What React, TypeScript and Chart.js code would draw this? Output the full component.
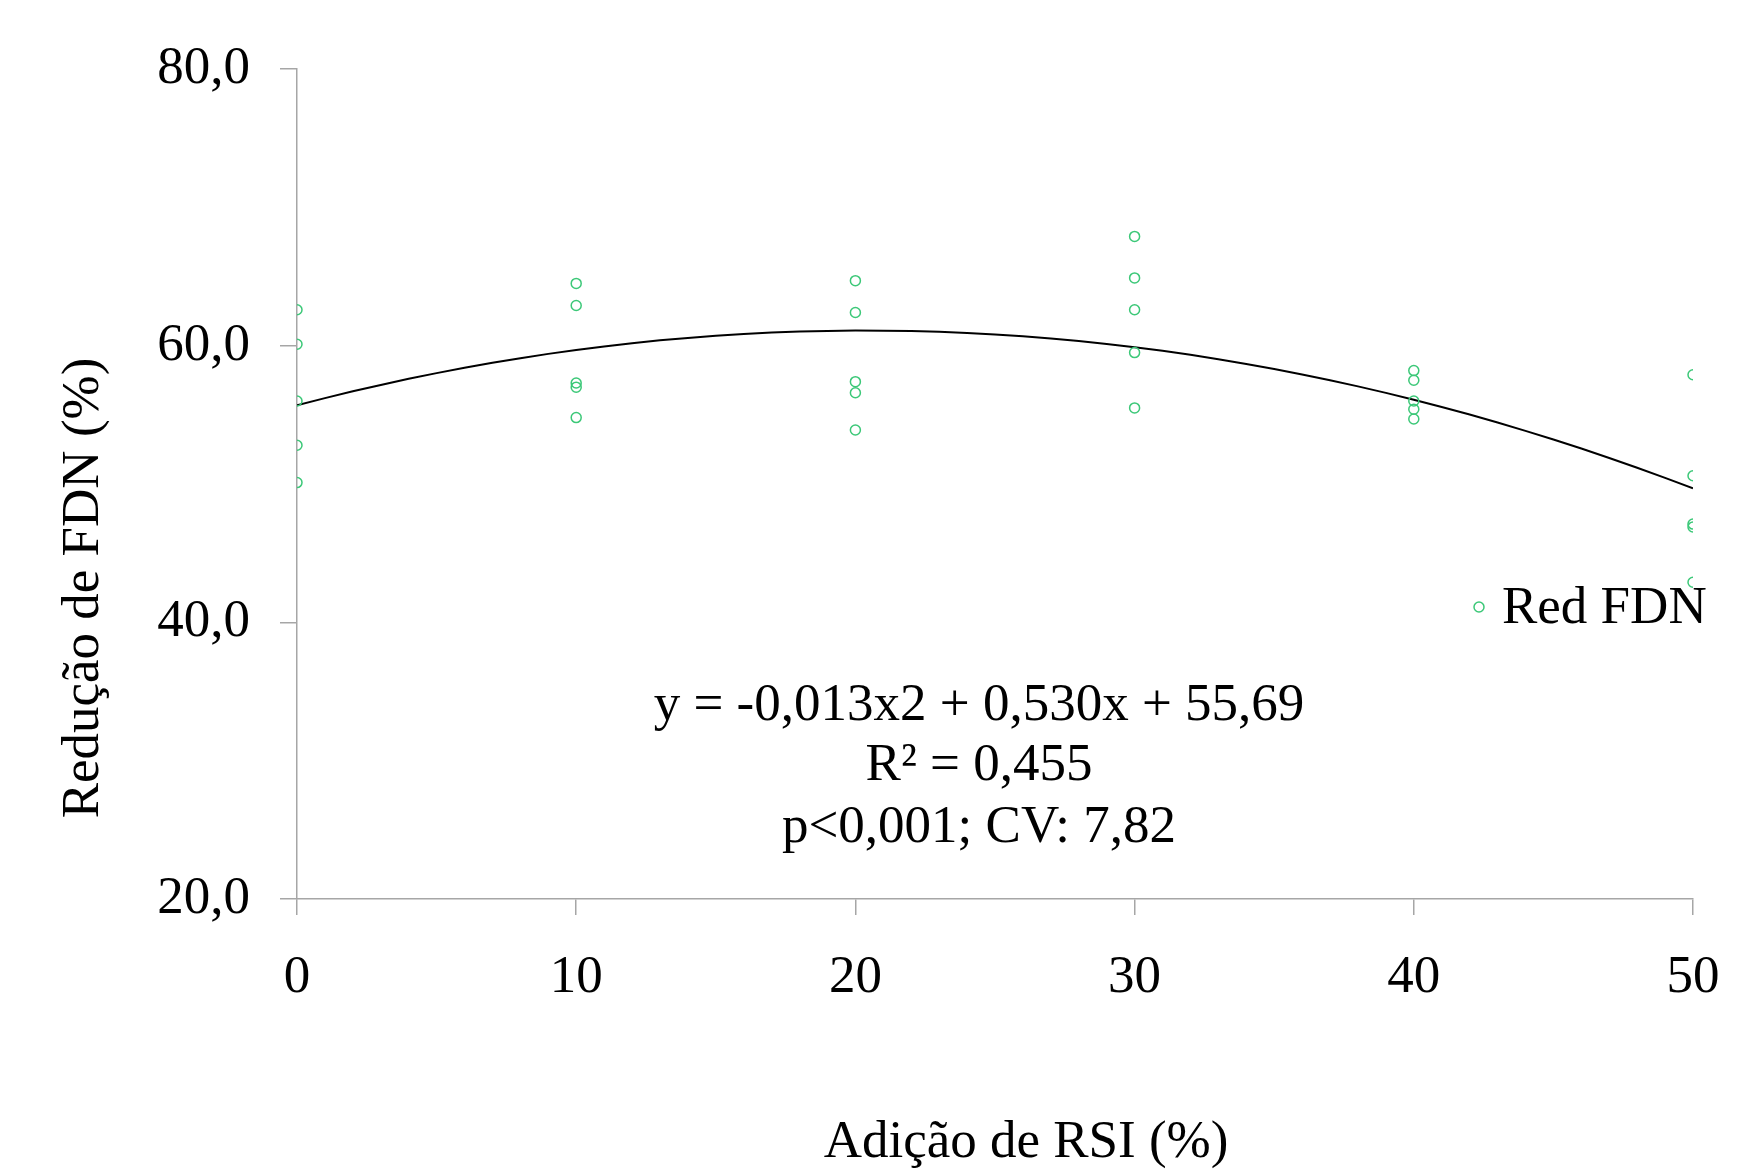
import React, { useEffect, useRef } from "react";
import { Chart, registerables } from "chart.js";

Chart.register(...registerables);

const xLevels = [0, 10, 20, 30, 40, 50];
const obsAt0 = [62.6, 60.1, 56.0, 52.8, 50.1];
const obsAt10 = [64.5, 62.9, 57.3, 57.0, 54.8];
const obsAt20 = [64.7, 62.4, 57.4, 56.6, 53.9];
const obsAt30 = [67.9, 64.9, 62.6, 59.5, 55.5];
const obsAt40 = [58.2, 57.5, 56.0, 55.4, 54.7];
const obsAt50 = [57.9, 50.6, 47.1, 46.9, 42.9];
const fitCoefficients = [55.69, 0.53, -0.013]; // c0 + c1 x + c2 x^2 (printed equation)
const yTicks = [20, 40, 60, 80];
const seriesName = "Red FDN";
const xTitle = "Adição de RSI (%)";
const yTitle = "Redução de FDN (%)";
const equationLines = ["y = -0,013x2 + 0,530x + 55,69", "R² = 0,455", "p<0,001; CV: 7,82"];

const GREEN = "rgb(60,200,120)";
const FONT = "'Liberation Serif', 'Times New Roman', serif";
const FS = 53;

export default function App() {
  const ref = useRef<HTMLCanvasElement | null>(null);

  useEffect(() => {
    if (!ref.current) return;
    const groups = [obsAt0, obsAt10, obsAt20, obsAt30, obsAt40, obsAt50];
    const scatter: { x: number; y: number }[] = [];
    groups.forEach((g, i) => g.forEach((v) => scatter.push({ x: xLevels[i], y: v })));
    const fit: { x: number; y: number }[] = [];
    for (let x = 0; x <= 50; x += 1) {
      fit.push({ x, y: fitCoefficients[0] + fitCoefficients[1] * x + fitCoefficients[2] * x * x });
    }

    const overlay = {
      id: "overlay",
      afterDraw(chart: any) {
        const ctx = chart.ctx;
        ctx.save();
        ctx.fillStyle = "#000";
        ctx.textBaseline = "middle";
        ctx.textAlign = "center";
        ctx.font = `${FS}px ${FONT}`;
        ctx.fillText(xTitle, 1026, 1143);
        ctx.save();
        ctx.translate(84, 588);
        ctx.rotate(-Math.PI / 2);
        ctx.fillText(yTitle, 0, 0);
        ctx.restore();
        const lineY = [706, 766, 828];
        equationLines.forEach((t, i) => ctx.fillText(t, 979, lineY[i]));
        ctx.textAlign = "left";
        ctx.fillText(seriesName, 1502, 609);
        ctx.beginPath();
        ctx.arc(1479, 607, 5, 0, Math.PI * 2);
        ctx.strokeStyle = GREEN;
        ctx.lineWidth = 1.5;
        ctx.stroke();
        ctx.restore();
      },
    };

    const chart = new Chart(ref.current, {
      type: "scatter",
      data: {
        datasets: [
          {
            label: "fit",
            data: fit,
            showLine: true,
            borderColor: "#000",
            borderWidth: 2,
            pointRadius: 0,
            tension: 0,
            fill: false,
            order: 2,
          },
          {
            label: seriesName,
            data: scatter,
            pointRadius: 5,
            pointBorderWidth: 1.5,
            pointBorderColor: GREEN,
            pointBackgroundColor: "rgba(0,0,0,0)",
            showLine: false,
            order: 1,
          },
        ],
      },
      options: {
        animation: false,
        responsive: false,
        layout: { padding: { top: 69, right: 69, left: 0, bottom: 0 } },
        plugins: { legend: { display: false }, tooltip: { enabled: false } },
        scales: {
          x: {
            type: "linear",
            min: 0,
            max: 50,
            afterFit(scale: any) {
              scale.height = 272;
            },
            afterBuildTicks(scale: any) {
              scale.ticks = xLevels.map((v) => ({ value: v }));
            },
            grid: {
              drawOnChartArea: false,
              color: "#a6a6a6",
              lineWidth: 1.5,
              tickLength: 16,
            },
            border: { color: "#a6a6a6", width: 1.5 },
            ticks: {
              color: "#000",
              font: { family: FONT, size: FS },
              padding: 31,
              maxRotation: 0,
              callback: (v: any) => String(v),
            },
          },
          y: {
            type: "linear",
            min: 20,
            max: 80,
            afterFit(scale: any) {
              scale.width = 297;
            },
            afterBuildTicks(scale: any) {
              scale.ticks = yTicks.map((v) => ({ value: v }));
            },
            grid: {
              drawOnChartArea: false,
              color: "#a6a6a6",
              lineWidth: 1.5,
              tickLength: 17,
            },
            border: { color: "#a6a6a6", width: 1.5 },
            ticks: {
              color: "#000",
              font: { family: FONT, size: FS },
              padding: 30,
              callback: (v: any) => Number(v).toFixed(1).replace(".", ","),
            },
          },
        },
      },
      plugins: [overlay],
    });
    return () => chart.destroy();
  }, []);

  return (
    <div style={{ position: "fixed", left: 0, top: 0, width: 1762, height: 1171, background: "#fff" }}>
      <canvas ref={ref} width={1762} height={1171} style={{ width: 1762, height: 1171, display: "block" }} />
    </div>
  );
}
